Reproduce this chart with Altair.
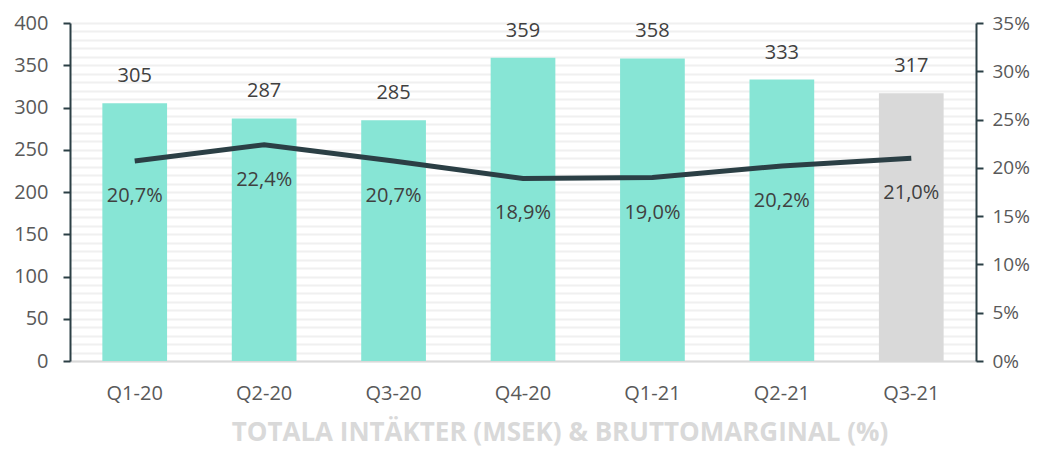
import altair as alt
import pandas as pd

quarters = ["Q1-20", "Q2-20", "Q3-20", "Q4-20", "Q1-21", "Q2-21", "Q3-21"]
revenue = [305, 287, 285, 359, 358, 333, 317]
margin = [20.7, 22.4, 20.7, 18.9, 19.0, 20.2, 21.0]
bar_colors = ["#87E5D5", "#87E5D5", "#87E5D5", "#87E5D5", "#87E5D5", "#87E5D5", "#D9D9D9"]

df = pd.DataFrame({
    "q": quarters,
    "rev": revenue,
    "m": margin,
    "col": bar_colors,
    "mlab": [f"{v:.1f}".replace(".", ",") + "%" for v in margin],
})

FONT = "Open Sans"
DARK = "#2B3F45"
LBL = 20

x = alt.X("q:N", sort=quarters, title=None,
          scale=alt.Scale(paddingInner=0.5, paddingOuter=0.25),
          axis=alt.Axis(labelAngle=0, labelFontSize=LBL, labelColor="#595959", labelFont=FONT,
                        ticks=False, domainColor="#D9D9D9", domainWidth=2, labelPadding=22))

yl = alt.Y("rev:Q", title=None, scale=alt.Scale(domain=[0, 400], nice=False),
           axis=alt.Axis(values=list(range(0, 401, 10)),
                         labelExpr="datum.value % 50 == 0 ? datum.value : ''",
                         labelFontSize=LBL, labelColor="#595959", labelFont=FONT,
                         domainColor=DARK, domainWidth=2, tickColor=DARK, tickWidth=2,
                         tickSize=7, tickOpacity={"expr": "datum.value % 50 == 0 ? 1 : 0"},
                         grid=True, gridColor="#F0F0F0", gridWidth=2, labelPadding=15))

yr = alt.Y("m:Q", title=None, scale=alt.Scale(domain=[0, 35], nice=False),
           axis=alt.Axis(orient="right", values=list(range(0, 36, 5)),
                         labelExpr="datum.value + '%'",
                         labelFontSize=19, labelColor="#595959", labelFont=FONT,
                         domainColor=DARK, domainWidth=2, tickColor=DARK, tickWidth=2,
                         tickSize=7, grid=False, labelPadding=9))

base = alt.Chart(df)

bars = base.mark_bar().encode(x=x, y=yl, color=alt.Color("col:N", scale=None))
bar_text = base.mark_text(dy=-27, fontSize=20, color="#404040", font=FONT).encode(
    x=x, y=yl, text="rev:Q")

line = base.mark_line(color=DARK, strokeWidth=5).encode(x=x, y=yr)
line_text = base.mark_text(dy=35, fontSize=20, color="#404040", font=FONT).encode(
    x=x, y=yr, text="mlab:N")

chart = alt.layer(
    alt.layer(bars, bar_text),
    alt.layer(line, line_text),
).resolve_scale(y="independent").properties(
    width=906, height=338,
    autosize=alt.AutoSizeParams(type="none"),
    padding={"left": 62, "top": 15, "right": 58, "bottom": 92},
    title=alt.TitleParams("TOTALA INTÄKTER (MSEK) & BRUTTOMARGINAL (%)", orient="bottom",
                          fontSize=26, font=FONT, fontWeight="bold", color="#D9D9D9",
                          offset=17, dx=37),
).configure_view(stroke=None)

chart.save("out.html", embed_options={"renderer": "svg", "actions": False})
